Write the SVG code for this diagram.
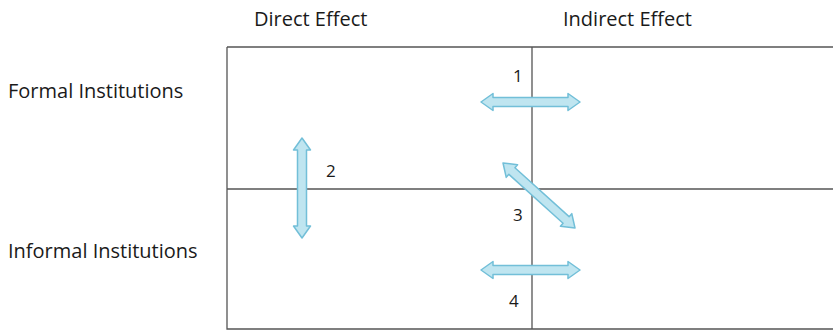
<svg xmlns="http://www.w3.org/2000/svg" width="833" height="332" viewBox="0 0 833 332">
<style>
.t{font-family:"Open Sans","Liberation Sans",sans-serif;font-size:20px;fill:#1a1a1a}
.n{font-family:"Open Sans","Liberation Sans",sans-serif;font-size:17px;fill:#1a1a1a}
.grid{stroke:#555;stroke-width:1.3;fill:none}
.arr{fill:#bfe5f0;stroke:#72bfd8;stroke-width:1.5;stroke-linejoin:round}
</style>
<rect width="833" height="332" fill="#fff"/>
<g id="grid">
<path class="grid" d="M227 47 H833 M227 47 V329 H833 M532 47 V329 M227 189 H833"/>
</g>
<g id="headers">
<text class="t" x="254" y="26">Direct Effect</text>
<text class="t" x="563" y="26">Indirect Effect</text>
<text class="t" x="8" y="98">Formal Institutions</text>
<text class="t" x="8" y="258">Informal Institutions</text>
</g>
<g id="connectors">
<path class="arr" transform="translate(530.5 102)" d="M-49.5 0 L-37.5 -8.5 L-37.5 -4.5 L37.5 -4.5 L37.5 -8.5 L49.5 0 L37.5 8.5 L37.5 4.5 L-37.5 4.5 L-37.5 8.5 Z"/>
<path class="arr" transform="translate(530.5 270)" d="M-49.5 0 L-37.5 -8.5 L-37.5 -4.5 L37.5 -4.5 L37.5 -8.5 L49.5 0 L37.5 8.5 L37.5 4.5 L-37.5 4.5 L-37.5 8.5 Z"/>
<path class="arr" transform="translate(302 188) rotate(90)" d="M-50 0 L-38 -8.5 L-38 -4.5 L38 -4.5 L38 -8.5 L50 0 L38 8.5 L38 4.5 L-38 4.5 L-38 8.5 Z"/>
<path class="arr" transform="translate(539 195.5) rotate(42.1)" d="M-48.5 0 L-36.5 -8.5 L-36.5 -4.5 L36.5 -4.5 L36.5 -8.5 L48.5 0 L36.5 8.5 L36.5 4.5 L-36.5 4.5 L-36.5 8.5 Z"/>
</g>
<g id="labels">
<text class="n" x="513" y="82">1</text>
<text class="n" x="326" y="177">2</text>
<text class="n" x="513" y="221">3</text>
<text class="n" x="509" y="307">4</text>
</g>
</svg>
